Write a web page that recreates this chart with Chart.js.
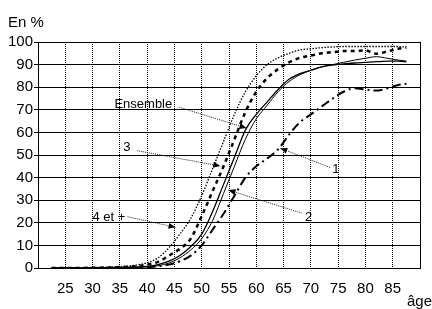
<!DOCTYPE html>
<html>
<head>
<meta charset="utf-8">
<script src="https://cdn.jsdelivr.net/npm/chart.js@4.4.1/dist/chart.umd.min.js"></script>
<style>
  html, body { margin: 0; padding: 0; background: #fff; }
</style>
</head>
<body>
<canvas id="c" width="432" height="309"></canvas>
<script>
// ages (x) and share in % for each group
const ages = [22.5, 30, 35, 38, 40, 42, 44, 46, 48, 50, 52, 54, 56, 58, 60, 62, 64, 66, 68, 70, 72, 74, 76, 78, 80, 82, 84, 86, 87.5];
const plus4 = [0, 0.2, 0.6, 1.3, 2.3, 4.5, 9, 15, 22, 32, 44, 56, 68, 78, 85, 90, 93, 95, 96.5, 97, 97.5, 97.8, 98, 98, 98, 98, 98, 98, 97.8];
const three = [0, 0.1, 0.4, 0.8, 1.5, 2.7, 5.5, 8.5, 13, 23, 34, 45, 57, 69, 78, 84, 88, 91, 93, 94, 95, 95.5, 96, 96, 96.3, 94.8, 95.8, 97, 97.5];
const ensemble = [0, 0, 0.2, 0.4, 0.7, 1.5, 3, 5.5, 9.5, 15, 25, 37, 49, 61, 68, 73.5, 79, 83.5, 86, 87.5, 89, 89.8, 90.3, 90.7, 91, 91.3, 91.5, 91.5, 91.3];
const two = [0, 0, 0.1, 0.3, 0.5, 1, 2.2, 4.5, 8, 13, 21, 33, 45, 57, 66, 72, 78, 82.5, 85.5, 87.5, 89, 90, 91, 92, 92.8, 93.5, 92.8, 92, 91.5];
const one = [0, 0, 0.1, 0.2, 0.3, 0.8, 1.5, 3, 5.5, 10, 17, 24, 32, 40, 45, 48.5, 52.5, 59, 64.5, 68, 71.5, 75, 78, 79.5, 79, 78.5, 79.5, 81, 81.5];

const xTicks = [25, 30, 35, 40, 45, 50, 55, 60, 65, 70, 75, 80, 85];
const yTicks = [0, 10, 20, 30, 40, 50, 60, 70, 80, 90, 100];

// labels with dotted arrows, in data units (age, %)
const notes = [
    { text: 'Ensemble', at: [39.3, 72.6], from: [45.8, 71.2], to: [58.2, 61.9] },
    { text: '3', at: [36.3, 53.5], from: [38.2, 51.9], to: [53.4, 45.1] },
    { text: '4 et +', at: [33, 22.6], from: [36.4, 22.7], to: [45.2, 18] },
    { text: '1', at: [74.6, 43.8], from: [73.5, 44.5], to: [64.4, 53] },
    { text: '2', at: [69.6, 22.6], from: [68.3, 24.3], to: [54.9, 34.5] },
];

const FONT = '"Liberation Sans", Arial, sans-serif';

function pts(arr) {
    return arr.map((v, i) => ({ x: ages[i], y: v }));
}

const notesPlugin = {
    id: 'notes',
    afterDatasetsDraw(chart) {
        const { ctx, scales: { x, y } } = chart;
        ctx.save();
        notes.forEach(n => {
            const x1 = x.getPixelForValue(n.from[0]), y1 = y.getPixelForValue(n.from[1]);
            const x2 = x.getPixelForValue(n.to[0]), y2 = y.getPixelForValue(n.to[1]);
            ctx.strokeStyle = '#222';
            ctx.lineWidth = 1;
            ctx.setLineDash([1, 1]);
            ctx.beginPath();
            ctx.moveTo(x1, y1);
            ctx.lineTo(x2, y2);
            ctx.stroke();
            ctx.setLineDash([]);
            const a = Math.atan2(y2 - y1, x2 - x1);
            ctx.fillStyle = '#000';
            ctx.beginPath();
            ctx.moveTo(x2, y2);
            ctx.lineTo(x2 - 7 * Math.cos(a) + 3 * Math.sin(a), y2 - 7 * Math.sin(a) - 3 * Math.cos(a));
            ctx.lineTo(x2 - 7 * Math.cos(a) - 3 * Math.sin(a), y2 - 7 * Math.sin(a) + 3 * Math.cos(a));
            ctx.closePath();
            ctx.fill();
            ctx.font = '13px ' + FONT;
            ctx.textAlign = 'center';
            ctx.textBaseline = 'middle';
            ctx.fillText(n.text, x.getPixelForValue(n.at[0]), y.getPixelForValue(n.at[1]));
        });
        ctx.font = '15px ' + FONT;
        ctx.textAlign = 'left';
        ctx.textBaseline = 'middle';
        ctx.fillText('En %', 8, 23);
        ctx.textAlign = 'right';
        ctx.fillText('âge', 432, 302);
        ctx.restore();
    }
};

new Chart(document.getElementById('c'), {
    type: 'line',
    data: {
        datasets: [
            { label: '4 et +', data: pts(plus4), borderColor: '#000', borderWidth: 1.3, borderDash: [1.5, 1.5] },
            { label: '3', data: pts(three), borderColor: '#000', borderWidth: 2.5, borderDash: [4, 4] },
            { label: 'Ensemble', data: pts(ensemble), borderColor: '#000', borderWidth: 1.3 },
            { label: '2', data: pts(two), borderColor: '#000', borderWidth: 1 },
            { label: '1', data: pts(one), borderColor: '#000', borderWidth: 2, borderDash: [9, 4, 2, 4] },
        ],
    },
    options: {
        responsive: false,
        animation: false,
        parsing: false,
        layout: { padding: { top: 42, right: 10, left: 0, bottom: 0 } },
        elements: {
            point: { radius: 0 },
            line: { cubicInterpolationMode: 'monotone', fill: false },
        },
        plugins: {
            legend: { display: false },
            tooltip: { enabled: false },
        },
        scales: {
            x: {
                type: 'linear',
                min: 20,
                max: 90,
                afterFit: (s) => { s.height = 41; },
                afterBuildTicks: (s) => { s.ticks = [20].concat(xTicks, [90]).map(v => ({ value: v })); },
                ticks: {
                    callback: (v) => xTicks.includes(v) ? String(v) : '',
                    font: { family: FONT, size: 15 },
                    color: '#000',
                    padding: 12,
                    maxRotation: 0,
                    autoSkip: false,
                },
                grid: {
                    color: (ctx) => ctx.tick && ctx.tick.value === 20 ? 'rgba(0,0,0,0)' : '#000',
                    lineWidth: 1,
                    drawTicks: false,
                },
                border: {
                    color: '#000',
                    width: 1,
                    dash: (ctx) => ctx.tick && ctx.tick.value === 90 ? [] : [1, 1],
                },
            },
            y: {
                min: 0,
                max: 100,
                afterFit: (s) => { s.width = 38; },
                afterBuildTicks: (s) => { s.ticks = yTicks.map(v => ({ value: v })); },
                ticks: {
                    font: { family: FONT, size: 15 },
                    color: '#000',
                    padding: 1,
                },
                grid: {
                    color: '#000',
                    lineWidth: 1,
                    tickLength: 4,
                },
                border: { color: '#000', width: 1 },
            },
        },
    },
    plugins: [notesPlugin],
});
</script>
</body>
</html>
